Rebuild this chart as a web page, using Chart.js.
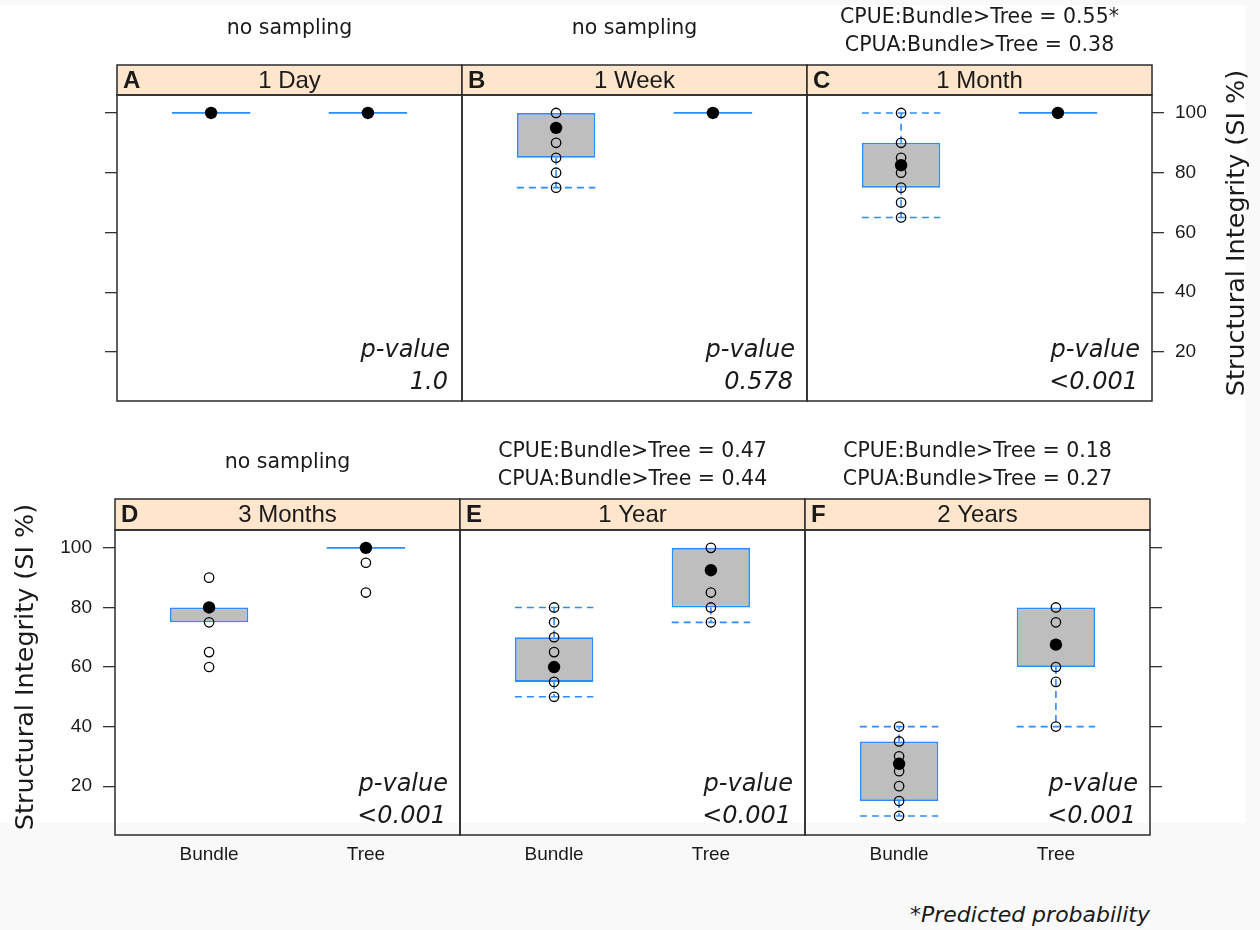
<!DOCTYPE html>
<html>
<head>
<meta charset="utf-8">
<script src="https://cdn.jsdelivr.net/npm/chart.js@4/dist/chart.umd.min.js"></script>
<style>
  html, body { margin: 0; background: #f9f9f9; }
  #wrap { position: relative; width: 1260px; height: 930px; }
  #paper { position: absolute; left: 0; top: 5px; width: 1245px; height: 818px; background: #fff; }
  #wrap canvas { position: absolute; left: 0; top: 0; }
  #foot { position: absolute; right: 110px; top: 902px; font: italic 22px "DejaVu Sans"; color: #1a1a1a; }
</style>
</head>
<body>
<div id="wrap">
  <div id="paper"></div>
  <div id="foot">*Predicted probability</div>
</div>
<script>
// groups on the x axis
const groups = ['Bundle', 'Tree'];

// panels
const panelLetters = ['A', 'B', 'C', 'D', 'E', 'F'];
const panelTitles = ['1 Day', '1 Week', '1 Month', '3 Months', '1 Year', '2 Years'];
const pValues = ['1.0', '0.578', '<0.001', '<0.001', '<0.001', '<0.001'];
const panelNotes = [
  ['no sampling'],
  ['no sampling'],
  ['CPUE:Bundle>Tree = 0.55*', 'CPUA:Bundle>Tree = 0.38'],
  ['no sampling'],
  ['CPUE:Bundle>Tree = 0.47', 'CPUA:Bundle>Tree = 0.44'],
  ['CPUE:Bundle>Tree = 0.18', 'CPUA:Bundle>Tree = 0.27']
];

// box stats per panel: [lower whisker, Q1, median, Q3, upper whisker]
const bundleStats = [
  [100, 100, 100, 100, 100],
  [75, 85, 95, 100, 100],
  [65, 75, 82.5, 90, 100],
  [75, 75, 80, 80, 80],
  [50, 55, 60, 70, 80],
  [10, 15, 27.5, 35, 40]
];
const treeStats = [
  [100, 100, 100, 100, 100],
  [100, 100, 100, 100, 100],
  [100, 100, 100, 100, 100],
  [100, 100, 100, 100, 100],
  [75, 80, 92.5, 100, 100],
  [40, 60, 67.5, 80, 80]
];

// individual SI observations
const bundlePoints = [
  [],
  [100, 90, 85, 80, 75],
  [100, 90, 85, 80, 75, 70, 65],
  [90, 75, 65, 60],
  [80, 75, 70, 65, 55, 50],
  [40, 35, 30, 25, 20, 15, 10]
];
const treePoints = [
  [],
  [],
  [],
  [95, 85],
  [100, 85, 80, 75],
  [80, 75, 60, 55, 40]
];

const yTicks = [20, 40, 60, 80, 100];
const yMin = 3.6, yMax = 106;

const BLUE = '#2a8cff';
const INK = '#1a1a1a';
const FONT = '"DejaVu Sans"';
const AXIS_FONT = '"Liberation Sans"';

Chart.defaults.font.family = FONT;
Chart.defaults.color = INK;

// panel frame, strip, p-value and annotation text
const panelDeco = {
  id: 'panelDeco',
  afterDraw(chart, args, o) {
    const { ctx, chartArea: a } = chart;
    const sTop = a.top - o.stripH;
    const w = a.right - a.left;
    const cx = (a.left + a.right) / 2;
    ctx.save();
    ctx.fillStyle = '#ffe5cc';
    ctx.fillRect(a.left, sTop, w, o.stripH);
    ctx.strokeStyle = '#2b2b2b';
    ctx.lineWidth = 1.5;
    ctx.strokeRect(a.left, sTop, w, o.stripH);
    ctx.strokeRect(a.left, a.top, w, a.bottom - a.top);

    ctx.fillStyle = INK;
    ctx.textBaseline = 'middle';
    ctx.textAlign = 'left';
    ctx.font = 'bold 24px ' + AXIS_FONT;
    ctx.fillText(o.letter, a.left + 6, sTop + o.stripH / 2 + 1);
    ctx.textAlign = 'center';
    ctx.font = '24px ' + AXIS_FONT;
    ctx.fillText(o.title, cx, sTop + o.stripH / 2 + 1);

    ctx.textAlign = 'right';
    ctx.font = 'italic 24px ' + FONT;
    ctx.fillText('p-value', a.right - 12, a.bottom - 50);
    ctx.fillText(o.p, a.right - 14, a.bottom - 18);

    ctx.textAlign = 'center';
    ctx.font = '20.5px ' + FONT;
    if (o.notes.length === 1) {
      ctx.fillText(o.notes[0], cx, sTop - 36);
    } else {
      ctx.fillText(o.notes[0], cx, sTop - 47);
      ctx.fillText(o.notes[1], cx, sTop - 19);
    }

    if (o.yTitle) {
      ctx.font = '25.5px ' + FONT;
      ctx.translate(o.yTitle === 'left' ? 26 : 1237, (sTop + a.bottom) / 2);
      ctx.rotate(-Math.PI / 2);
      ctx.fillText('Structural Integrity (SI %)', 0, 0);
    }
    ctx.restore();
  }
};

function panelDatasets(k) {
  const stats = [bundleStats[k], treeStats[k]];
  const pts = [bundlePoints[k], treePoints[k]];
  const half = 0.25;
  const boxes = [], flats = [], whiskers = [], circles = [], medians = [];
  stats.forEach((s, g) => {
    const x = g + 1;
    const [lo, q1, med, q3, hi] = s;
    if (q3 > q1) boxes.push({ x, y: [q1, q3] });
    else flats.push({ x: x - half, y: q1 }, { x: x + half, y: q1 }, { x, y: null });
    if (hi > q3) {
      whiskers.push({ x, y: q3 }, { x, y: hi }, { x, y: null },
                    { x: x - half, y: hi }, { x: x + half, y: hi }, { x, y: null });
    }
    if (lo < q1) {
      whiskers.push({ x, y: q1 }, { x, y: lo }, { x, y: null },
                    { x: x - half, y: lo }, { x: x + half, y: lo }, { x, y: null });
    }
    pts[g].forEach(v => circles.push({ x, y: v }));
    medians.push({ x, y: med });
  });
  return [
    { type: 'scatter', data: medians, order: 0, pointRadius: 6.2, pointBackgroundColor: '#000',
      pointBorderColor: '#000', pointBorderWidth: 0 },
    { type: 'scatter', data: circles, order: 1, pointRadius: 4.7, pointBackgroundColor: 'rgba(0,0,0,0)',
      pointBorderColor: '#000', pointBorderWidth: 1.3 },
    { type: 'bar', data: boxes, order: 2, backgroundColor: '#bebebe', borderColor: BLUE, borderWidth: 1.8,
      borderSkipped: false, categoryPercentage: 0.5, barPercentage: 1 },
    { type: 'line', data: flats, order: 3, borderColor: BLUE, borderWidth: 1.7, pointRadius: 0 },
    { type: 'line', data: whiskers, order: 4, borderColor: BLUE, borderWidth: 1.6, borderDash: [7, 5],
      pointRadius: 0 }
  ];
}

const rows = [
  { stripTop: 65, stripH: 30, bottom: 401, lefts: [117, 462, 807], right: 1152 },
  { stripTop: 499, stripH: 31, bottom: 835, lefts: [115, 460, 805], right: 1150 }
];
// outer y axis of each panel: [side, show labels]
const ySides = [['left', false], [null, false], ['right', true], ['left', true], [null, false], ['right', false]];
const yTitles = [null, null, 'right', 'left', null, null];
const LABEL_BAND = 70;   // room for tick labels, kept inside the scale box
const XLABEL_BAND = 40;

const wrap = document.getElementById('wrap');

panelTitles.forEach((title, k) => {
  const r = rows[k < 3 ? 0 : 1];
  const col = k % 3;
  const left = r.lefts[col];
  const right = col < 2 ? r.lefts[col + 1] : r.right;
  const plotTop = r.stripTop + r.stripH;
  const [side, showLabels] = ySides[k];
  const yBand = showLabels ? LABEL_BAND : 0;
  const xBand = k >= 3 ? XLABEL_BAND : 0;

  const pad = {
    left: side === 'left' ? left - yBand : left,
    right: side === 'right' ? 1260 - right - yBand : 1260 - right,
    top: plotTop,
    bottom: 930 - r.bottom - xBand
  };

  const canvas = document.createElement('canvas');
  canvas.width = 1260;
  canvas.height = 930;
  wrap.appendChild(canvas);

  new Chart(canvas, {
    type: 'scatter',
    data: { datasets: panelDatasets(k) },
    plugins: [panelDeco],
    options: {
      responsive: false,
      animation: false,
      devicePixelRatio: 1,
      events: [],
      layout: { padding: pad },
      plugins: {
        legend: { display: false },
        tooltip: { enabled: false },
        panelDeco: { letter: panelLetters[k], title, stripH: r.stripH, p: pValues[k],
                     notes: panelNotes[k], yTitle: yTitles[k] }
      },
      scales: {
        x: {
          type: 'linear', min: 0.4, max: 2.6, offset: false, display: k >= 3,
          afterFit: s => { s.height = xBand; },
          afterBuildTicks: s => { s.ticks = groups.map((g, i) => ({ value: i + 1 })); },
          grid: { display: false, drawTicks: false },
          border: { display: false },
          ticks: { callback: v => groups[v - 1], padding: 8, autoSkip: false, maxRotation: 0,
                   font: { size: 19, family: AXIS_FONT }, color: INK }
        },
        y: {
          type: 'linear', min: yMin, max: yMax, position: side || 'left', display: side !== null,
          afterFit: s => { s.width = yBand; },
          afterBuildTicks: s => { s.ticks = yTicks.map(v => ({ value: v })); },
          grid: { drawOnChartArea: false, drawTicks: true, tickLength: 12, color: '#333', lineWidth: 1.3 },
          border: { display: false },
          ticks: { display: showLabels, padding: 11, autoSkip: false,
                   font: { size: 19, family: AXIS_FONT }, color: INK }
        }
      }
    }
  });
});
</script>
</body>
</html>
